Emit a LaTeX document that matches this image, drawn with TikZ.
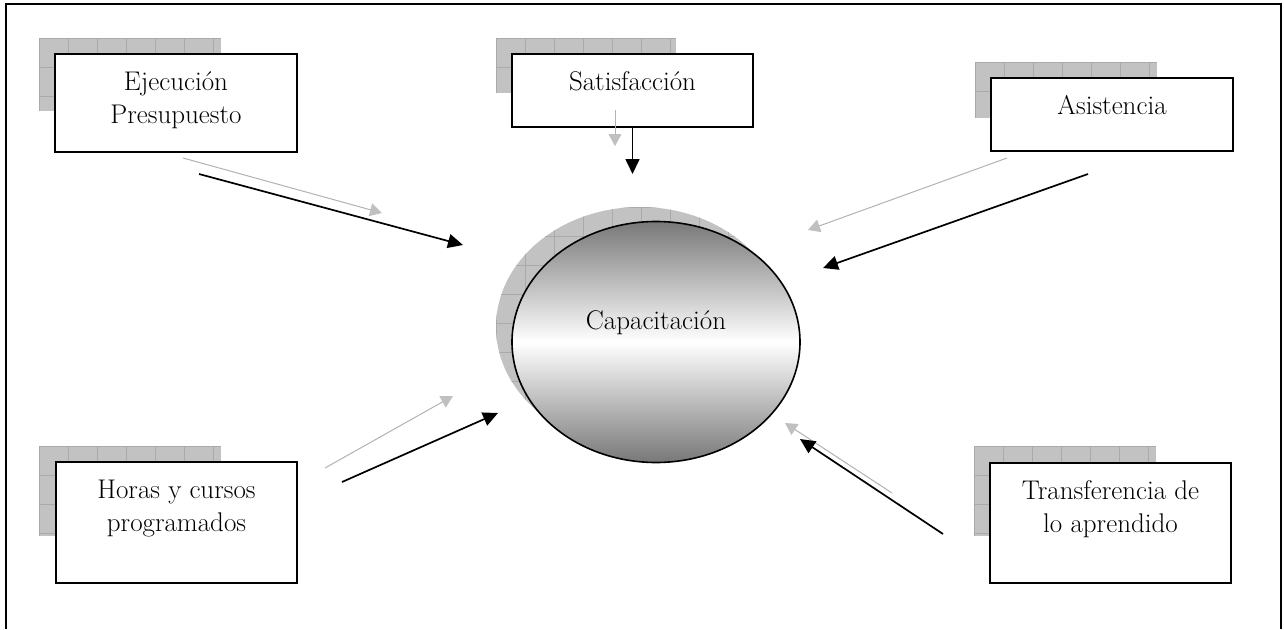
\documentclass[tikz,border=0pt]{standalone}
\usepackage{fontspec}
\usetikzlibrary{arrows.meta,shapes.geometric}

\definecolor{shadowgrey}{RGB}{194,194,194}
\definecolor{gridgrey}{RGB}{170,170,170}
\definecolor{ghostline}{RGB}{178,178,178}
\definecolor{ghosthead}{RGB}{192,192,192}
\definecolor{ovalgrey}{RGB}{120,120,120}

\tikzset{
  frameline/.style={line width=2pt, draw=black},
  stepbox/.style={rectangle, draw=black, line width=2pt, fill=white, inner sep=0pt},
  boxtext/.style={font=\fontsize{20}{24.4}\selectfont, scale=1.35, transform shape,
                  align=center, inner sep=0pt},
  oval/.style={ellipse, draw=black, line width=1.6pt, inner sep=0pt,
               top color=ovalgrey, bottom color=ovalgrey, middle color=white},
  shadowgrid/.style={draw=gridgrey, line width=0.8pt, step=29pt},
  mainarrow/.style={line width=1.7pt, draw=black,
                    -{Triangle[length=15pt, width=14pt]}},
  ghostarrow/.style={line width=1pt, draw=ghostline,
                     -{Triangle[length=12pt, width=13pt, color=ghosthead, fill=ghosthead]}},
}

% textured drop shade behind a box: fill plus a 29pt grid
\newcommand\gridshade[4]{%
  \fill[shadowgrey] (#1,#2) rectangle (#3,#4);
  \begin{scope}[shift={(#1,#2)}]
    \draw[shadowgrid] (0,0) grid (#3-#1,#4-#2);
  \end{scope}}

\begin{document}
\begin{tikzpicture}[x=1pt, y=-1pt]
  \useasboundingbox (0,0) rectangle (1284,629);

  % outer frame, open at the bottom
  \draw[frameline] (6,629) -- (6,4) -- (1281,4) -- (1281,629);

  % drop shades
  \gridshade{39}{38}{221}{111}
  \gridshade{496}{38}{676}{93}
  \gridshade{975}{62}{1157}{118}
  \gridshade{39}{446}{221}{536}
  \gridshade{974}{446}{1156}{536}

  % shade behind the central oval
  \begin{scope}
    \clip (640,327) ellipse [x radius=144pt, y radius=120pt];
    \fill[shadowgrey] (490,200) rectangle (790,450);
    \begin{scope}[shift={(496,207)}]
      \draw[shadowgrid] (0,0) grid (300,250);
    \end{scope}
  \end{scope}

  % boxes
  \node[stepbox, minimum width=242pt, minimum height=98pt]  (ej)  at (176,103)   {};
  \node[stepbox, minimum width=241pt, minimum height=73pt]  (sat) at (632.5,90.5) {};
  \node[stepbox, minimum width=242pt, minimum height=73pt]  (asi) at (1112,114.5) {};
  \node[stepbox, minimum width=241pt, minimum height=121pt] (hor) at (176.5,522.5) {};
  \node[stepbox, minimum width=241pt, minimum height=120pt] (tra) at (1110.5,523) {};

  \node[boxtext, anchor=north] (ejtxt)  at ([yshift=-14pt]ej.north)  {\strut Ejecución\\Presupuesto};
  \node[boxtext, anchor=north] (sattxt) at ([yshift=-14pt]sat.north) {\strut Satisfacción};
  \node[boxtext, anchor=north] (asitxt) at ([yshift=-14pt]asi.north) {\strut Asistencia};
  \node[boxtext, anchor=north] (hortxt) at ([yshift=-14pt]hor.north) {\strut Horas y cursos\\programados};
  \node[boxtext, anchor=north] (tratxt) at ([yshift=-14pt]tra.north) {\strut Transferencia de\\lo aprendido};

  % central oval
  \node[oval, minimum width=288pt, minimum height=241pt] (cap) at (656,342) {};
  \node[boxtext, anchor=base] (captxt) at ([yshift=13pt]cap.center) {Capacitación};

  % arrow end points
  \coordinate (g1s) at (183,158);  \coordinate (g1e) at (382,213);
  \coordinate (b1s) at (199,174);  \coordinate (b1e) at (463,245);
  \coordinate (g2s) at (615,110);  \coordinate (g2e) at (615,146);
  \coordinate (b2e) at (632.5,174);
  \coordinate (g3s) at (1007,158); \coordinate (g3e) at (808,230);
  \coordinate (b3s) at (1088,174); \coordinate (b3e) at (823,268);
  \coordinate (g4s) at (325,468);  \coordinate (g4e) at (453,396);
  \coordinate (b4s) at (342,482);  \coordinate (b4e) at (498,413);
  \coordinate (g5s) at (892,493);  \coordinate (g5e) at (785,423);
  \coordinate (b5s) at (943,534);  \coordinate (b5e) at (800,439);

  % light arrows
  \draw[ghostarrow] (g1s) -- (g1e);
  \draw[ghostarrow] (g2s) -- (g2e);
  \draw[ghostarrow] (g3s) -- (g3e);
  \draw[ghostarrow] (g4s) -- (g4e);
  \draw[ghostarrow] (g5s) -- (g5e);

  % dark arrows
  \draw[mainarrow] (b1s) -- (b1e);
  \draw[mainarrow] (sat.south) -- (b2e);
  \draw[mainarrow] (b3s) -- (b3e);
  \draw[mainarrow] (b4s) -- (b4e);
  \draw[mainarrow] (b5s) -- (b5e);
\end{tikzpicture}
\end{document}
